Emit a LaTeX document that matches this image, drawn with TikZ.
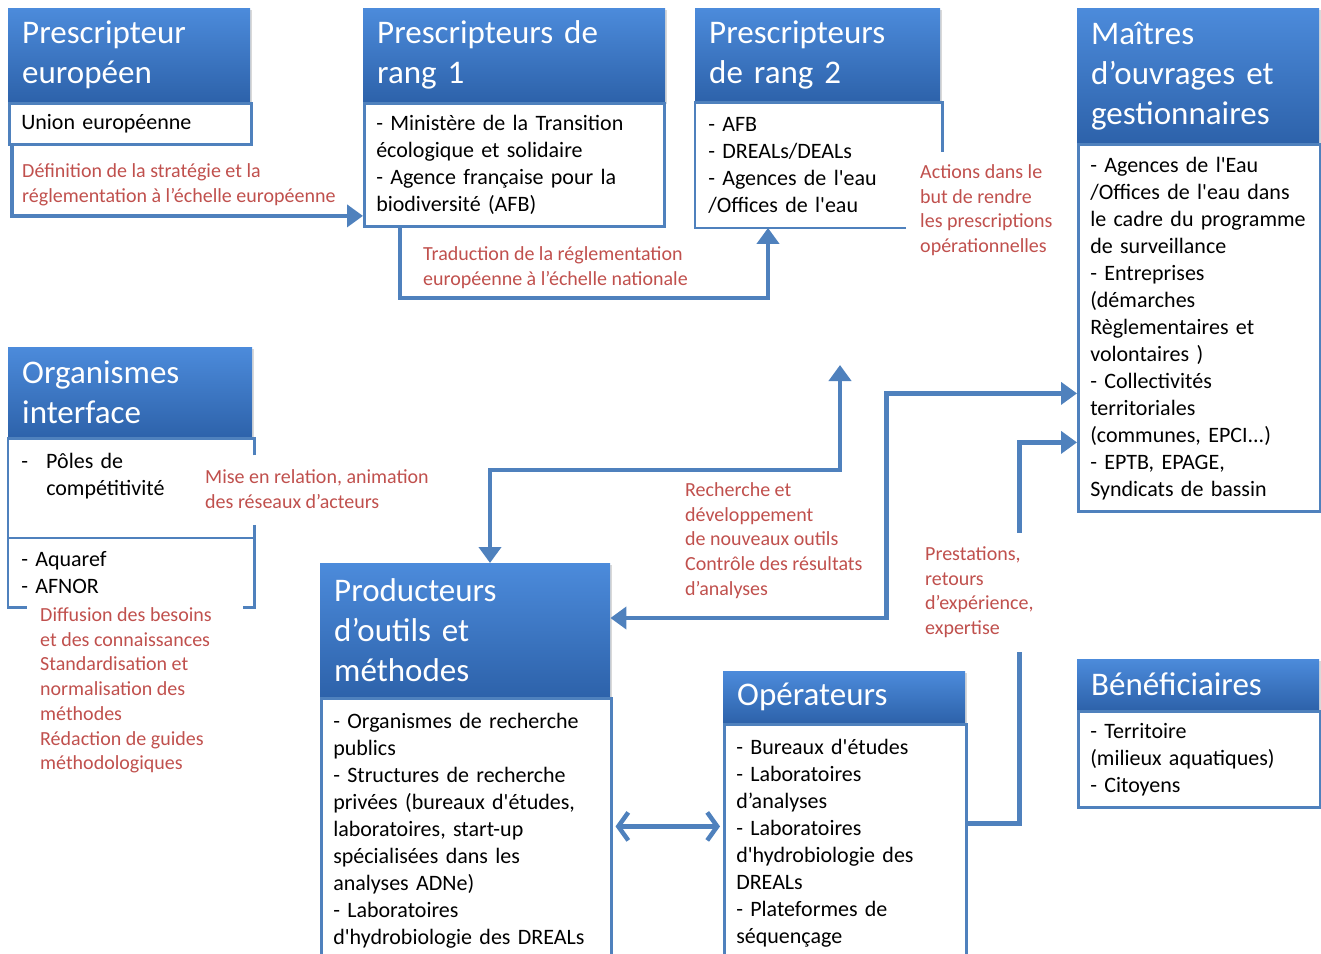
\documentclass[tikz,border=0pt]{standalone}
\usepackage{fontspec}
\newfontfamily\carlito{Carlito}
\usetikzlibrary{arrows.meta,calc,shadows}
\definecolor{hdrtop}{RGB}{76,139,219}
\definecolor{hdrbot}{RGB}{45,98,170}
\definecolor{boxblue}{RGB}{79,129,189}
\definecolor{labred}{RGB}{192,80,77}
\newcommand\titlefont{\carlito\fontsize{33}{40}\selectfont}
\newcommand\bodyfont{\carlito\fontsize{22}{27}\selectfont}
\newcommand\labfont{\carlito\fontsize{20}{24.7}\selectfont}
\begin{document}
\begin{tikzpicture}[x=1pt,y=-1pt,line join=miter,>={Triangle[length=16pt,width=22pt]},
  hdr/.style={rectangle,top color=hdrtop,bottom color=hdrbot,text=white,font=\titlefont,align=left,anchor=north west,inner xsep=14pt,inner ysep=0pt,drop shadow={opacity=0.3,shadow xshift=2pt,shadow yshift=-2pt}},
  bdy/.style={rectangle,draw=boxblue,line width=2.5pt,fill=white,font=\bodyfont,align=left,anchor=north west,inner xsep=12pt,inner ysep=0pt},
  openbox/.style={bdy,draw=none},
  rim/.style={draw=boxblue,line width=2.5pt},
  conn/.style={draw=boxblue,line width=4.5pt},
  lbl/.style={text=labred,font=\labfont,align=left,anchor=north west,inner sep=0pt}]
\useasboundingbox (0,0) rectangle (1321,953);

\node[hdr,minimum width=242pt,text width=214pt,minimum height=94pt] (euh) at (8,8) {Prescripteur\\européen};
\node[bdy,minimum width=242pt,text width=218pt,minimum height=41pt] (eub) at (euh.south west) {Union européenne};

\node[hdr,minimum width=302pt,text width=274pt,minimum height=94pt] (rguh) at (363,8) {Prescripteurs de\\rang 1};
\node[bdy,minimum width=300pt,text width=276pt,minimum height=123pt] (rgub) at (rguh.south west) {- Ministère de la Transition\\écologique et solidaire\\- Agence française pour la\\biodiversité (AFB)};

\node[hdr,minimum width=245pt,text width=217pt,minimum height=94pt] (rgdh) at (695,8) {Prescripteurs\\de rang 2};
\node[openbox,minimum width=245pt,text width=221pt,minimum height=123pt] (rgdb) at (rgdh.south west) {- AFB\\- DREALs/DEALs\\- Agences de l'eau\\/Offices de l'eau};
\draw[rim] ($(rgdb.south west)+(211,0)$) -- (rgdb.south west) -- (rgdb.north west) -- (rgdb.north east) -- ++(0,50);

\node[hdr,minimum width=242pt,text width=214pt,minimum height=135pt] (maith) at (1077,8) {Maîtres\\d’ouvrages et\\gestionnaires};
\node[bdy,minimum width=242pt,text width=218pt,minimum height=367pt] (maitb) at (maith.south west) {- Agences de l'Eau\\/Offices de l'eau dans\\le cadre du programme\\de surveillance\\- Entreprises\\(démarches\\Règlementaires et\\volontaires )\\- Collectivités\\territoriales\\(communes, EPCI...)\\- EPTB, EPAGE,\\Syndicats de bassin};

\node[hdr,minimum width=244pt,text width=216pt,minimum height=91pt] (inth) at (8,347) {Organismes\\interface};
\node[openbox,minimum width=244pt,text width=220pt,minimum height=97pt] (intb) at (inth.south west) {\makebox[25pt][l]{-}Pôles de\\\hspace*{25pt}compétitivité\\\mbox{}};
\node[openbox,minimum width=244pt,text width=220pt,minimum height=67pt] (intc) at (intb.south west) {- Aquaref\\- AFNOR};
\draw[rim] ($(intb.north east)+(0,17)$) -- (intb.north east) -- (intb.north west) -- (intc.south west) -- ++(19,0);
\draw[rim] ($(intb.south east)+(0,-13)$) -- (intc.south east) -- ++(-12,0);
\draw[rim] (intb.south west) -- (intb.south east);

\node[hdr,minimum width=290pt,text width=262pt,minimum height=134pt] (prodh) at (320,563) {Producteurs\\d’outils et\\méthodes};
\node[bdy,minimum width=290pt,text width=266pt,minimum height=265pt] (prodb) at (prodh.south west) {- Organismes de recherche\\publics\\- Structures de recherche\\privées (bureaux d'études,\\laboratoires, start-up\\spécialisées dans les\\analyses ADNe)\\- Laboratoires\\d'hydrobiologie des DREALs};

\node[hdr,minimum width=242pt,text width=214pt,minimum height=52pt] (oph) at (723,671) {Opérateurs};
\node[bdy,minimum width=242pt,text width=218pt,minimum height=237pt] (opb) at (oph.south west) {- Bureaux d'études\\- Laboratoires\\d’analyses\\- Laboratoires\\d'hydrobiologie des\\DREALs\\- Plateformes de\\séquençage};

\node[hdr,minimum width=242pt,text width=214pt,minimum height=51pt] (benh) at (1077,659) {Bénéficiaires};
\node[bdy,minimum width=242pt,text width=218pt,minimum height=96pt] (benb) at (benh.south west) {- Territoire\\(milieux aquatiques)\\- Citoyens};

\coordinate (rdtop) at (840,365);
\coordinate (rdknee) at (840,470);
\draw[conn,->] ($(eub.south west)+(4,0)$) |- ($(rgub.south west)+(0,-12)$);
\draw[conn,->] ($(rgub.south west)+(37,0)$) -- ++(0,70) -| ($(rgdb.south west)+(73,0)$);
\draw[conn,<->] (rdtop) -- (rdknee) -| ($(prodh.north west)+(170,0)$);
\draw[conn,<->] ($(prodh.north east)+(0,55)$) -- ++(276,0) |- ($(maitb.north west)+(0,250)$);
\draw[conn,->] ($(opb.north east)+(0,100)$) -- ++(52,0) |- ($(maitb.north west)+(0,299)$);
\draw[conn,{Straight Barb[length=10pt,width=28pt]}-{Straight Barb[length=10pt,width=28pt]},shorten <=3pt,shorten >=3pt] ($(prodb.north east)+(0,129)$) -- ($(opb.north west)+(0,103)$);

\node[lbl] (defl) at (22,160) {\strut Définition de la stratégie et la\\réglementation à l’échelle européenne};
\node[lbl] (tradl) at (423,243) {\strut Traduction de la réglementation\\européenne à l’échelle nationale};
\node[lbl] (actl) at (920,161) {\strut Actions dans le\\but de rendre\\les prescriptions\\opérationnelles};
\node[lbl] (misel) at (205,466) {\strut Mise en relation, animation\\des réseaux d’acteurs};
\node[lbl] (diffl) at (40,604) {\strut Diffusion des besoins\\et des connaissances\\Standardisation et\\normalisation des\\méthodes\\Rédaction de guides\\méthodologiques};
\node[lbl] (rechl) at (685,479) {\strut Recherche et\\développement\\de nouveaux outils\\Contrôle des résultats\\d’analyses};
\node[lbl,fill=white,inner ysep=10pt,inner xsep=2pt] (prestl) at (923,533) {\strut Prestations,\\retours\\d’expérience,\\expertise\strut};
\end{tikzpicture}
\end{document}
